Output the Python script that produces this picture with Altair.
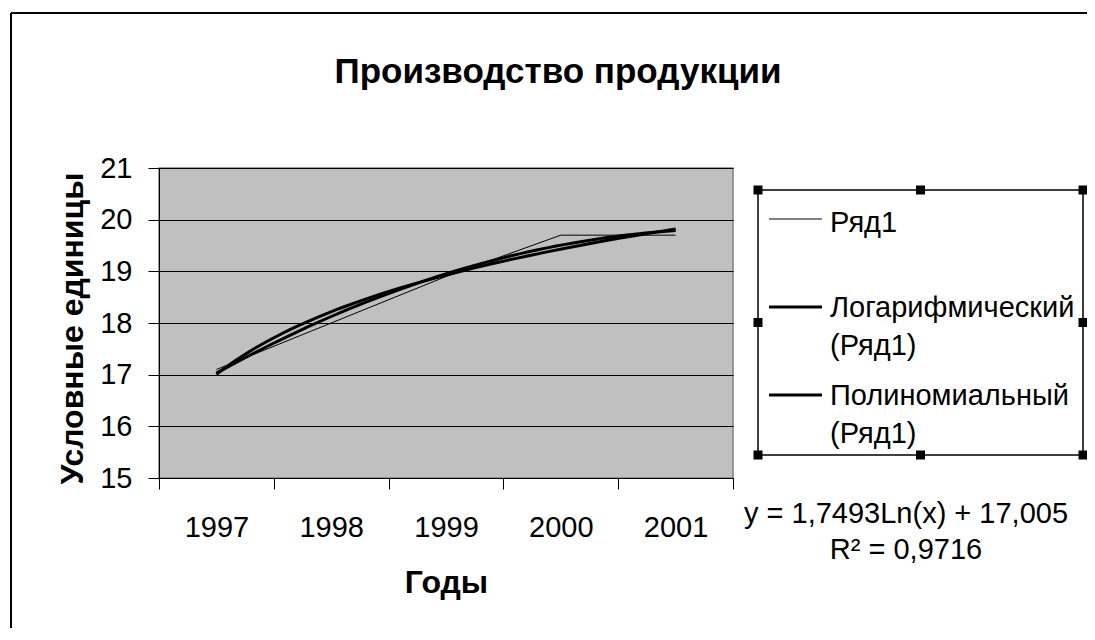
import json
import altair as alt
import pandas as pd

# ---------------- data ----------------
years = ["1997", "1998", "1999", "2000", "2001"]
period = [1, 2, 3, 4, 5]
values = [17.1, 18.0, 18.9, 19.7, 19.7]
series_names = ["Ряд1", "Логарифмический (Ряд1)", "Полиномиальный (Ряд1)"]
y_ticks = [15, 16, 17, 18, 19, 20, 21]
x_axis_values = [0.5, 1, 1.5, 2, 2.5, 3, 3.5, 4, 4.5, 5, 5.5]
chart_title = "Производство продукции"
x_title = "Годы"
y_title = "Условные единицы"
equation_lines = ["y = 1,7493Ln(x) + 17,005", "R² = 0,9716"]

df = pd.DataFrame({"period": period, "value": values, "year": years})

FONT = "Liberation Sans"
REG = 29
PLOT_W, PLOT_H = 574, 310
one = alt.Data(values=[{}])

x_enc = alt.X(
    "period:Q",
    scale=alt.Scale(domain=[0.5, 5.5], nice=False, zero=False),
    axis=alt.Axis(
        values=x_axis_values,
        labelExpr=f"datum.value % 1 === 0 ? {json.dumps(years)}[datum.value - 1] : ''",
        tickOpacity={"condition": {"test": "datum.value % 1 === 0", "value": 0}, "value": 1},
        tickSize=11,
        tickColor="black",
        domainColor="black",
        labelFont=FONT,
        labelFontSize=REG,
        labelColor="black",
        labelBaseline="alphabetic",
        labelPadding=47,
        labelOverlap=False,
        labelFlush=False,
        grid=False,
        title=x_title,
        titleFont=FONT,
        titleFontSize=32,
        titleFontWeight="bold",
        titleColor="black",
        titleBaseline="alphabetic",
        titleX=PLOT_W / 2,
        titleY=114,
    ),
)
y_enc = alt.Y(
    "value:Q",
    scale=alt.Scale(domain=[15, 21], nice=False, zero=False),
    axis=alt.Axis(
        values=y_ticks,
        format="d",
        tickSize=11,
        tickColor="black",
        domainColor="black",
        grid=True,
        gridColor="black",
        gridWidth=1,
        labelFont=FONT,
        labelFontSize=REG,
        labelColor="black",
        labelPadding=16,
        title=y_title,
        titleFont=FONT,
        titleFontSize=32,
        titleFontWeight="bold",
        titleColor="black",
        titleBaseline="alphabetic",
        titleAngle=270,
        titleX=-77,
        titleY=160,
    ),
)

base = alt.Chart(df)
data_line = base.mark_line(color="black", strokeWidth=1).encode(x=x_enc, y=y_enc)
log_line = (
    base.transform_regression("period", "value", method="log")
    .mark_line(color="black", strokeWidth=3)
    .encode(x="period:Q", y="value:Q")
)
poly_line = (
    base.transform_regression("period", "value", method="poly", order=2)
    .mark_line(color="black", strokeWidth=3)
    .encode(x="period:Q", y="value:Q")
)

# ---------------- decorations (chart frame, title, legend, equation) ----------------
layers = [data_line, log_line, poly_line]

# outer chart frame (left and top edges visible)
layers.append(alt.Chart(one).mark_rule(color="black", strokeWidth=2).encode(
    x=alt.value(-148), y=alt.value(-155), y2=alt.value(480)))
layers.append(alt.Chart(one).mark_rule(color="black", strokeWidth=2).encode(
    x=alt.value(-148), x2=alt.value(940), y=alt.value(-155)))

# title
layers.append(alt.Chart(one).mark_text(
    text=chart_title, font=FONT, fontSize=35, fontWeight="bold", color="black",
    align="center", baseline="alphabetic").encode(x=alt.value(399), y=alt.value(-85)))

# legend box
LX0, LX1, LY0, LY1 = 599, 924, 22, 287
layers.append(alt.Chart(one).mark_rect(fill=None, stroke="black", strokeWidth=1.5).encode(
    x=alt.value(LX0), x2=alt.value(LX1), y=alt.value(LY0), y2=alt.value(LY1)))
LXM, LYM = (LX0 + LX1) / 2, (LY0 + LY1) / 2
for hx, hy in [(LX0, LY0), (LXM, LY0), (LX1, LY0), (LX0, LYM), (LX1, LYM),
               (LX0, LY1), (LXM, LY1), (LX1, LY1)]:
    layers.append(alt.Chart(one).mark_rect(color="black").encode(
        x=alt.value(hx - 4.5), x2=alt.value(hx + 4.5), y=alt.value(hy - 4.5), y2=alt.value(hy + 4.5)))

legend_widths = [1, 3, 3]
legend_line_y = [51, 139, 227]
legend_text_y = [64, 149, 237]
for name, sw, ly, ty in zip(series_names, legend_widths, legend_line_y, legend_text_y):
    layers.append(alt.Chart(one).mark_rule(color="black", strokeWidth=sw).encode(
        x=alt.value(610), x2=alt.value(663), y=alt.value(ly)))
    parts = name.split(" ")
    layers.append(alt.Chart(one).mark_text(
        text=parts if len(parts) > 1 else parts[0], font=FONT, fontSize=REG, color="black",
        align="left", baseline="alphabetic", lineHeight=38).encode(
        x=alt.value(671), y=alt.value(ty)))

# trendline equation
layers.append(alt.Chart(one).mark_text(
    text=equation_lines, font=FONT, fontSize=REG, color="black",
    align="center", baseline="alphabetic", lineHeight=36).encode(
    x=alt.value(747), y=alt.value(355)))

chart = alt.layer(*layers).properties(
    width=PLOT_W,
    height=PLOT_H,
    padding={"left": 151, "top": 160, "right": 354, "bottom": 150},
    autosize=alt.AutoSizeParams(type="none"),
    background="white",
).configure_view(fill="#c0c0c0", stroke="#808080", strokeWidth=1.5)

chart.save("out.html", embed_options={"renderer": "svg", "actions": False})
